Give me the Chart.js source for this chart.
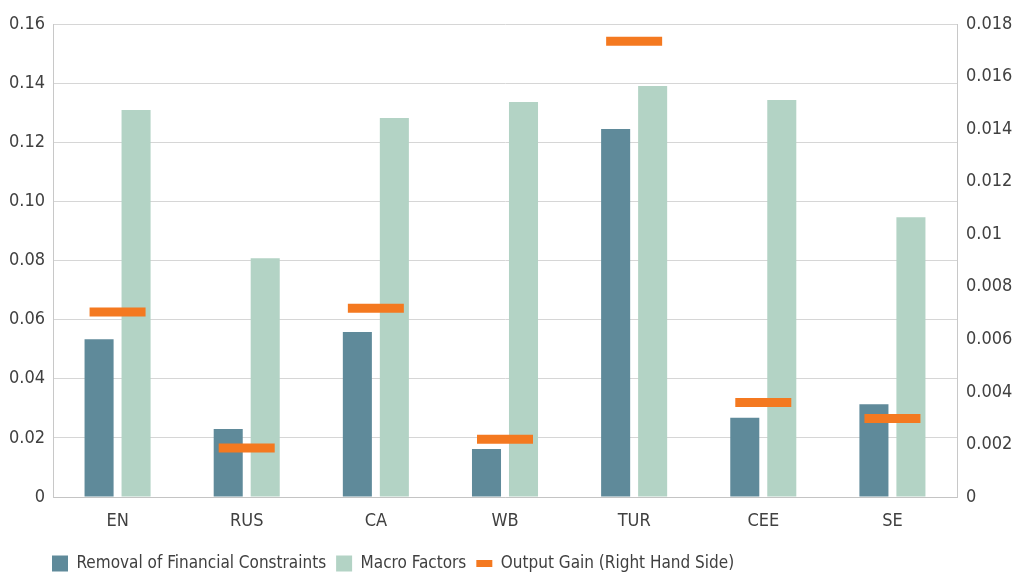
<!DOCTYPE html>
<html>
<head>
<meta charset="utf-8">
<script src="https://cdn.jsdelivr.net/npm/chart.js@4.4.1/dist/chart.umd.min.js"></script>
<style>
  html, body { margin: 0; padding: 0; background: #ffffff; }
  #wrap { width: 1020px; height: 585px; position: relative; }
</style>
</head>
<body>
<div id="wrap"><canvas id="c" width="1020" height="585"></canvas></div>
<script>
const categories = ['EN', 'RUS', 'CA', 'WB', 'TUR', 'CEE', 'SE'];
const financialConstraints = [0.0534, 0.0230, 0.0558, 0.0162, 0.1245, 0.0268, 0.0314];
const macroFactors = [0.1309, 0.0808, 0.1282, 0.1336, 0.1390, 0.1343, 0.0946];
const outputGain = [0.00704, 0.00186, 0.00718, 0.00220, 0.01734, 0.00360, 0.00299];
const leftTickLabels = ['0', '0.02', '0.04', '0.06', '0.08', '0.10', '0.12', '0.14', '0.16'];
const rightTickLabels = ['0', '0.002', '0.004', '0.006', '0.008', '0.01', '0.012', '0.014', '0.016', '0.018'];
const seriesNames = ['Removal of Financial Constraints', 'Macro Factors', 'Output Gain (Right Hand Side)'];

const FONT = "'Liberation Sans Narrow', 'DejaVu Sans Condensed', 'Noto Sans', sans-serif";
const TEXT = '#404040';

const legendShift = {
  id: 'legendShift',
  afterLayout(chart) {
    if (chart.legend) { chart.legend.left = 42; }
  }
};

new Chart(document.getElementById('c'), {
  type: 'bar',
  data: {
    labels: categories,
    datasets: [
      {
        label: seriesNames[0],
        data: financialConstraints,
        backgroundColor: '#5f8a9a',
        yAxisID: 'y',
        order: 1,
        pointStyle: 'rect',
        categoryPercentage: 0.573,
        barPercentage: 0.785
      },
      {
        label: seriesNames[1],
        data: macroFactors,
        backgroundColor: '#b3d3c5',
        yAxisID: 'y',
        order: 2,
        pointStyle: 'rect',
        categoryPercentage: 0.573,
        barPercentage: 0.785
      },
      {
        type: 'line',
        label: seriesNames[2],
        data: outputGain,
        yAxisID: 'y2',
        order: 0,
        showLine: false,
        pointStyle: 'line',
        pointRadius: 28,
        pointHoverRadius: 28,
        pointBorderWidth: 9,
        pointHoverBorderWidth: 9,
        pointBorderColor: '#f47920',
        pointBackgroundColor: '#f47920',
        borderColor: '#f47920',
        backgroundColor: '#f47920'
      }
    ]
  },
  options: {
    responsive: false,
    animation: false,
    devicePixelRatio: 1,
    layout: { autoPadding: false, padding: { top: 24, bottom: 3, left: 0, right: 0 } },
    plugins: {
      tooltip: { enabled: false },
      title: { display: false },
      legend: {
        position: 'bottom',
        align: 'start',
        fullSize: false,
        labels: {
          usePointStyle: true,
          pointStyleWidth: 16,
          boxHeight: 16,
          padding: 10,
          color: TEXT,
          font: { family: FONT, size: 17 },
          sort: (a, b) => a.datasetIndex - b.datasetIndex,
          generateLabels(chart) {
            const items = Chart.defaults.plugins.legend.labels.generateLabels(chart);
            items.forEach(it => {
              if (it.datasetIndex === 2) {
                it.lineWidth = 7;
                it.strokeStyle = '#f47920';
                it.pointStyle = 'line';
              } else {
                it.lineWidth = 0;
                it.pointStyle = 'rect';
              }
            });
            return items;
          }
        }
      }
    },
    scales: {
      x: {
        grid: { display: false, drawTicks: false },
        border: { display: true, color: '#c4c4c4', width: 1 },
        ticks: { color: TEXT, font: { family: FONT, size: 18 }, padding: 14, maxRotation: 0 },
        afterFit(scale) { scale.height = 48; }
      },
      y: {
        position: 'left',
        min: 0,
        max: 0.16,
        ticks: {
          stepSize: 0.02,
          color: TEXT,
          padding: 8,
          font: { family: FONT, size: 18 },
          callback: (v, i) => leftTickLabels[i]
        },
        grid: { color: '#d6d6d6', lineWidth: 1, drawTicks: false },
        border: { display: true, color: '#c8c8c8', width: 1 },
        afterFit(scale) { scale.width = 53; }
      },
      y2: {
        position: 'right',
        min: 0,
        max: 0.018,
        ticks: {
          stepSize: 0.002,
          color: TEXT,
          padding: 9,
          font: { family: FONT, size: 18 },
          callback: (v, i) => rightTickLabels[i]
        },
        grid: { display: false, drawTicks: false },
        border: { display: true, color: '#c8c8c8', width: 1 },
        afterFit(scale) { scale.width = 63; }
      }
    }
  },
  plugins: [legendShift]
});
</script>
</body>
</html>
